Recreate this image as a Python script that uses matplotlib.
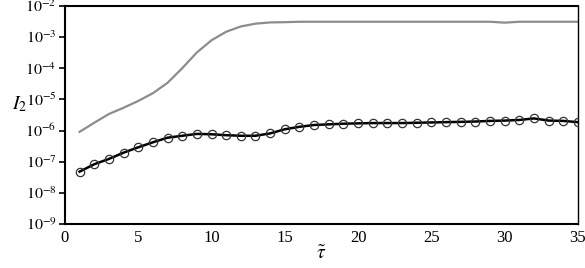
import matplotlib
matplotlib.use("Agg")
import matplotlib.pyplot as plt
from matplotlib.ticker import FixedLocator, NullLocator

plt.rcParams['font.family'] = ['Liberation Serif', 'DejaVu Serif']
plt.rcParams['mathtext.fontset'] = 'stix'

tau = list(range(1, 36))
i2_black = [4.8e-8, 8.3e-8, 1.23e-7, 1.95e-7, 2.9e-7, 4.2e-7, 5.9e-7, 6.8e-7, 7.8e-7, 7.6e-7,
            7.1e-7, 6.8e-7, 6.8e-7, 8.1e-7, 1.1e-6, 1.32e-6, 1.51e-6, 1.58e-6, 1.66e-6, 1.70e-6,
            1.74e-6, 1.74e-6, 1.74e-6, 1.78e-6, 1.82e-6, 1.86e-6, 1.9e-6, 1.95e-6, 2.04e-6, 2.09e-6,
            2.19e-6, 2.45e-6, 2.09e-6, 2.04e-6, 1.86e-6]
i2_gray = [9.1e-7, 1.78e-6, 3.4e-6, 5.4e-6, 8.9e-6, 1.58e-5, 3.4e-5, 1.0e-4, 3.2e-4, 7.9e-4,
           1.48e-3, 2.19e-3, 2.69e-3, 2.95e-3, 3.0e-3, 3.1e-3, 3.1e-3, 3.1e-3, 3.1e-3, 3.1e-3,
           3.1e-3, 3.1e-3, 3.1e-3, 3.1e-3, 3.1e-3, 3.1e-3, 3.1e-3, 3.1e-3, 3.1e-3, 2.9e-3,
           3.1e-3, 3.1e-3, 3.1e-3, 3.1e-3, 3.1e-3]
xticks = [0, 5, 10, 15, 20, 25, 30, 35]
yexps = [-9, -8, -7, -6, -5, -4, -3, -2]

fig = plt.figure(figsize=(5.85, 2.68), dpi=100)
ax = fig.add_axes([0.111, 0.164, 0.877, 0.814])

ax.plot(tau, i2_gray, color='#8c8c8c', lw=1.6, zorder=2)
ax.plot(tau, i2_black, color='black', lw=1.8, zorder=3)
ax.plot(tau, i2_black, linestyle='none', marker='o', ms=6.0, mfc='none',
        mec='#333333', mew=0.9, zorder=4)

ax.set_yscale('log')
ax.set_xlim(0, 35)
ax.set_ylim(1e-9, 1e-2)
ax.set_xticks(xticks)
ax.set_xticklabels([str(v) for v in xticks])
ax.yaxis.set_major_locator(FixedLocator([10.0**e for e in yexps]))
ax.yaxis.set_minor_locator(NullLocator())
ax.set_yticklabels([r'$10^{-%d}$' % (-e) for e in yexps])

for s in ax.spines.values():
    s.set_linewidth(1.5)
    s.set_color('black')
ax.spines['right'].set_linewidth(1.0)

ax.tick_params(axis='y', direction='out', length=4, width=1.2, labelsize=11.5, pad=2)
ax.tick_params(axis='x', direction='out', length=0, labelsize=12, pad=4)

ax.set_xlabel(r'$\tilde{\tau}$', fontsize=14, labelpad=0)
ax.set_ylabel(r'$I_2$', fontsize=14, rotation=0, ha='center', va='center')
ax.yaxis.set_label_coords(-0.088, 0.55)

fig.savefig('out.png', dpi=100)
